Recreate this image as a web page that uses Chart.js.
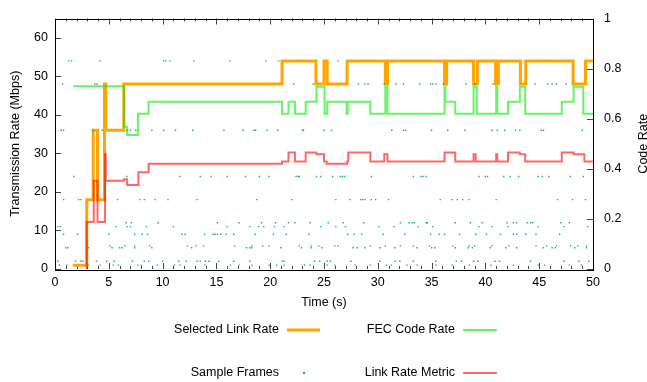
<!DOCTYPE html>
<html>
<head>
<meta charset="utf-8">
<script src="https://cdn.jsdelivr.net/npm/chart.js@4/dist/chart.umd.min.js"></script>
<style>
  html, body { margin: 0; background: #fff; }
  canvas { display: block; }
</style>
</head>
<body>
<canvas id="chart" width="647" height="382"></canvas>
<script>
// Selected link rate (Mbps), each value held until the next time
const linkTimes = [1.65, 2.95, 3.55, 3.95, 4.6, 4.72, 6.4, 21.1, 24.25, 25.0, 25.3, 27.15, 30.7, 30.9, 36.2, 36.4, 38.9, 39.25, 40.95, 41.2, 43.25, 43.75, 48.15, 49.3, 50];
const linkRates = [1, 18, 36, 18, 48, 36, 48, 54, 48, 54, 48, 54, 48, 54, 48, 54, 48, 54, 48, 54, 48, 54, 48, 54, 54];

// FEC code rate (right axis)
const fecTimes = [1.7, 6.4, 6.7, 7.7, 8.7, 21.1, 21.7, 22.3, 23.3, 24.3, 25.05, 25.3, 27.1, 27.2, 29.3, 30.7, 30.9, 36.2, 36.27, 37.2, 38.9, 39.2, 41.0, 41.1, 42.1, 43.2, 43.7, 47.1, 48.2, 49.1, 50];
const fecRates = [0.73, 0.568, 0.535, 0.62, 0.668, 0.62, 0.668, 0.62, 0.668, 0.728, 0.62, 0.668, 0.62, 0.668, 0.62, 0.728, 0.62, 0.728, 0.668, 0.62, 0.728, 0.62, 0.728, 0.62, 0.668, 0.728, 0.62, 0.668, 0.728, 0.62, 0.62];

// Link rate metric (Mbps)
const metricTimes = [2.9, 2.95, 3.6, 3.95, 4.65, 4.72, 6.4, 6.7, 7.75, 8.7, 21.1, 21.7, 22.3, 23.3, 24.3, 25.0, 25.25, 27.15, 27.25, 29.3, 30.6, 30.9, 36.2, 37.2, 38.9, 39.1, 41.0, 41.1, 42.1, 43.2, 43.7, 47.1, 48.2, 49.2, 50];
const metricRates = [0, 12.2, 22.9, 12.2, 29.8, 22.9, 23.3, 21.8, 25.1, 27.3, 27.9, 30.2, 27.9, 30.2, 29.8, 27.9, 27.3, 27.9, 30.2, 27.9, 29.8, 27.9, 30.2, 27.9, 29.8, 27.9, 29.8, 27.9, 30.2, 29.8, 27.9, 30.2, 29.8, 27.9, 27.9];

// Sample frames: one list of times (s) per probed rate (Mbps)
const sampleRates = [54, 48, 36, 24, 18, 12, 11, 9, 6, 5.5, 2, 1];
const sampleTimes = [
  [1.28, 1.54, 4.17, 10.1, 10.3, 10.7, 12.9, 16.25, 19.6, 20.8, 26.3],
  [0.7, 3.7, 3.9, 22.2, 24.0, 28.2, 28.8, 29.1, 30.6, 31.7, 32.4, 33.9, 34.9, 35.1, 35.4, 36.1, 38.2, 39.0, 40.7, 44.6, 45.8, 46.2, 46.6, 47.5],
  [0.58, 0.8, 3.5, 4.4, 6.7, 7.0, 7.5, 9.0, 10.1, 11.2, 12.8, 15.7, 17.5, 18.5, 18.65, 19.7, 20.7, 23.0, 23.1, 25.0, 25.7, 31.3, 32.4, 32.6, 35.0, 36.5, 38.1, 40.6, 41.1, 41.8, 42.8, 43.2, 45.2, 45.4, 49.0],
  [1.76, 6.67, 11.6, 13.5, 14.5, 16.0, 17.7, 19.0, 19.9, 22.4, 22.6, 22.7, 24.3, 24.7, 25.8, 26.5, 26.7, 26.9, 29.4, 33.3, 34.0, 34.2, 34.5, 39.4, 40.0, 40.2, 41.7, 42.3, 43.1, 44.9, 45.3, 45.9, 47.9, 49.1],
  [0.8, 2.2, 2.4, 5.8, 7.9, 8.3, 9.3, 10.5, 13.2, 18.75, 22.0, 26.1, 27.4, 28.4, 28.6, 28.8, 29.4, 29.8, 31.0, 35.8, 36.9, 37.4, 37.9, 38.5, 41.0, 46.7, 48.1, 49.3],
  [6.6, 7.1, 9.6, 15.1, 17.1, 19.2, 20.5, 21.7, 22.3, 23.7, 25.4, 26.8, 28.7, 32.1, 32.9, 33.2, 33.4, 34.5, 34.6, 37.2, 38.6, 39.7, 42.0, 42.6, 42.9, 43.9, 44.2, 44.4, 47.0, 47.8],
  [0.26, 0.5, 5.7, 6.7, 7.0, 8.5, 11.0, 16.0, 18.1, 18.9, 19.4, 20.4, 21.3, 24.7, 26.1, 27.0, 30.1, 31.5, 33.75, 35.1, 39.4, 40.6, 42.1, 44.9, 47.3, 49.5],
  [0.8, 2.1, 5.0, 7.4, 8.1, 8.6, 11.8, 12.1, 13.9, 14.7, 14.9, 15.1, 15.4, 15.9, 16.6, 18.6, 20.3, 21.5, 23.6, 27.2, 27.8, 28.5, 30.5, 32.5, 34.9, 35.7, 36.2, 37.6, 39.1, 40.1, 41.4, 42.6, 42.9, 43.75, 44.7, 46.9],
  [5.1, 6.5, 7.4, 8.8, 12.3, 13.1, 13.8, 16.7, 18.3, 19.3, 19.9, 22.7, 23.8, 24.5, 26.0, 26.3, 29.3, 30.7, 32.1, 33.3, 34.8, 37.0, 38.5, 39.0, 40.6, 42.2, 44.7, 45.7, 46.6, 47.9, 48.6, 49.4],
  [1.0, 1.2, 3.1, 5.3, 6.0, 6.25, 7.4, 9.0, 12.7, 17.8, 18.1, 18.3, 21.0, 22.9, 23.8, 24.8, 27.7, 28.1, 28.8, 30.2, 31.6, 33.65, 35.0, 35.3, 37.2, 38.4, 38.8, 40.45, 41.9, 42.9, 45.35, 46.2, 46.5, 48.3, 49.4],
  [0.26, 1.9, 2.4, 2.6, 3.85, 4.8, 5.5, 7.2, 8.3, 8.7, 10.0, 11.5, 12.2, 13.2, 13.5, 14.0, 14.3, 15.2, 16.6, 18.1, 21.1, 21.3, 24.1, 24.6, 25.3, 25.6, 27.5, 30.2, 31.6, 32.05, 33.3, 35.4, 37.3, 37.8, 38.9, 39.3, 40.9, 41.3, 44.2, 47.3, 48.7, 49.6],
  [0.4, 1.1, 3.1, 4.2, 5.4, 5.9, 7.7, 8.0, 9.5, 11.1, 11.6, 13.9, 16.3, 17.1, 18.3, 19.9, 20.6, 21.3, 23.2, 23.7, 25.3, 26.0, 27.9, 29.3, 30.8, 31.25, 32.7, 33.65, 35.4, 36.9, 38.5, 40.5, 42.6, 44.9, 45.5, 47.8, 48.9]
];

const xTicksMajor = [0, 5, 10, 15, 20, 25, 30, 35, 40, 45, 50];

const ORANGE = '#ffa500';
const GREEN = 'rgba(0, 235, 0, 0.6)';
const RED = 'rgba(255, 0, 0, 0.6)';
const TEAL = 'rgba(0, 150, 110, 0.85)';
const FONT = '"Liberation Sans", Arial, sans-serif';

const zip = (xs, ys) => xs.map((x, i) => ({ x, y: ys[i] }));

const samplePoints = [];
sampleRates.forEach((r, i) => sampleTimes[i].forEach(t => samplePoints.push({ x: t, y: r })));

// gnuplot-like frame: inward ticks, border, axis titles, legend under the plot
const gnuFrame = {
  id: 'gnuFrame',
  beforeDatasetsDraw(chart) {
    const { ctx, chartArea: a, scales } = chart;
    ctx.save();
    ctx.strokeStyle = '#444';
    ctx.lineWidth = 1;
    ctx.beginPath();
    for (let t = 0; t <= 50; t++) {
      const px = Math.round(scales.x.getPixelForValue(t)) + 0.5;
      const len = xTicksMajor.includes(t) ? 6 : 3;
      ctx.moveTo(px, a.bottom); ctx.lineTo(px, a.bottom - len);
      ctx.moveTo(px, a.top); ctx.lineTo(px, a.top + len);
    }
    scales.y.ticks.forEach(tk => {
      const py = Math.round(scales.y.getPixelForValue(tk.value)) + 0.5;
      ctx.moveTo(a.left, py); ctx.lineTo(a.left + 6, py);
    });
    scales.y2.ticks.forEach(tk => {
      const py = Math.round(scales.y2.getPixelForValue(tk.value)) + 0.5;
      ctx.moveTo(a.right, py); ctx.lineTo(a.right - 6, py);
    });
    ctx.stroke();
    ctx.restore();
  },
  afterDraw(chart) {
    const { ctx, chartArea: a } = chart;
    ctx.save();
    ctx.strokeStyle = '#000';
    ctx.lineWidth = 1;
    ctx.strokeRect(Math.round(a.left) + 0.5, Math.round(a.top) + 0.5,
      Math.round(a.right - a.left), Math.round(a.bottom - a.top));

    ctx.fillStyle = '#000';
    ctx.font = '12.5px ' + FONT;
    ctx.textBaseline = 'middle';
    ctx.textAlign = 'center';
    const midY = (a.top + a.bottom) / 2;
    ctx.fillText('Time (s)', (a.left + a.right) / 2, 303);
    [['Transmission Rate (Mbps)', 16], ['Code Rate', 644]].forEach(([txt, cx]) => {
      ctx.save();
      ctx.translate(cx, midY);
      ctx.rotate(-Math.PI / 2);
      ctx.fillText(txt, 0, 0);
      ctx.restore();
    });

    // legend, two columns, text right aligned before the sample
    const entries = [
      { label: 'Selected Link Rate', tx: 279, y: 330, color: ORANGE, width: 3, x0: 287, x1: 320 },
      { label: 'FEC Code Rate', tx: 455, y: 330, color: GREEN, width: 2, x0: 463, x1: 497 },
      { label: 'Sample Frames', tx: 279, y: 373, color: TEAL, dot: 303 },
      { label: 'Link Rate Metric', tx: 455, y: 373, color: RED, width: 2, x0: 463, x1: 497 }
    ];
    ctx.textAlign = 'right';
    entries.forEach(e => {
      ctx.fillStyle = '#000';
      ctx.fillText(e.label, e.tx, e.y);
      if (e.dot) {
        ctx.fillStyle = e.color;
        ctx.fillRect(e.dot, e.y - 1, 2, 2);
      } else {
        ctx.strokeStyle = e.color;
        ctx.lineWidth = e.width;
        ctx.beginPath();
        ctx.moveTo(e.x0, e.y); ctx.lineTo(e.x1, e.y);
        ctx.stroke();
      }
    });
    ctx.restore();
  }
};

Chart.defaults.font.family = FONT;
Chart.defaults.font.size = 12.5;
Chart.defaults.color = '#000';

new Chart(document.getElementById('chart').getContext('2d'), {
  type: 'line',
  data: {
    datasets: [
      {
        label: 'Link Rate Metric',
        data: zip(metricTimes, metricRates),
        yAxisID: 'y',
        borderColor: RED,
        borderWidth: 2,
        stepped: 'before',
        pointRadius: 0,
        order: 0
      },
      {
        label: 'Sample Frames',
        type: 'scatter',
        data: samplePoints,
        yAxisID: 'y',
        backgroundColor: TEAL,
        borderWidth: 0,
        pointStyle: 'rect',
        pointRadius: 1,
        showLine: false,
        order: 1
      },
      {
        label: 'FEC Code Rate',
        data: zip(fecTimes, fecRates),
        yAxisID: 'y2',
        borderColor: GREEN,
        borderWidth: 2,
        stepped: 'before',
        pointRadius: 0,
        order: 2
      },
      {
        label: 'Selected Link Rate',
        data: zip(linkTimes, linkRates),
        yAxisID: 'y',
        borderColor: ORANGE,
        borderWidth: 3,
        stepped: 'before',
        pointRadius: 0,
        order: 3
      }
    ]
  },
  options: {
    responsive: false,
    animation: false,
    layout: { padding: { left: 0, right: 0, top: 11, bottom: 73 } },
    plugins: { legend: { display: false }, tooltip: { enabled: false } },
    scales: {
      x: {
        type: 'linear',
        min: 0,
        max: 50,
        grid: { display: false, drawTicks: false },
        border: { display: false },
        ticks: { stepSize: 5, padding: 6, maxRotation: 0 },
        afterFit: s => { s.height = 40; }
      },
      y: {
        position: 'left',
        min: 0,
        max: 65,
        grid: { display: false, drawTicks: false },
        border: { display: false },
        ticks: { stepSize: 10, padding: 7 },
        afterBuildTicks: s => { s.ticks = s.ticks.filter(t => t.value % 10 === 0); },
        afterFit: s => { s.width = 55; }
      },
      y2: {
        position: 'right',
        min: 0,
        max: 1,
        grid: { display: false, drawTicks: false },
        border: { display: false },
        ticks: { stepSize: 0.2, padding: 11, callback: v => String(+v.toFixed(1)) },
        afterFit: s => { s.width = 54; }
      }
    }
  },
  plugins: [gnuFrame]
});
</script>
</body>
</html>
